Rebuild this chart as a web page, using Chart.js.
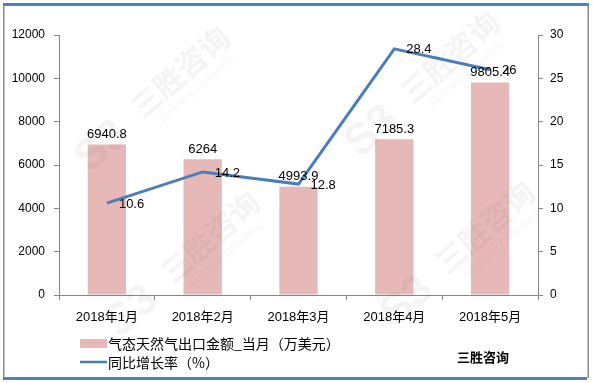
<!DOCTYPE html>
<html>
<head>
<meta charset="utf-8">
<script src="https://cdn.jsdelivr.net/npm/chart.js@4/dist/chart.umd.min.js"></script>
<style>
html,body{margin:0;padding:0;background:#fff;overflow:hidden}
#wrap{width:593px;height:383px;position:relative}
canvas{display:block}
</style>
</head>
<body>
<div id="wrap"><canvas id="c" width="593" height="383"></canvas></div>
<script>
// ---- data ----
const categories = ['2018年1月', '2018年2月', '2018年3月', '2018年4月', '2018年5月'];
const exportValue = [6940.8, 6264, 4993.9, 7185.3, 9805.4];
const growthRate = [10.6, 14.2, 12.8, 28.4, 26];
const leftAxisRange = [0, 12000, 2000];
const rightAxisRange = [0, 30, 5];
const barSeriesName = '气态天然气出口金额_当月（万美元）';
const lineSeriesName = '同比增长率（%）';
const sourceName = '三胜咨询';

const NUM_FONT = '"Liberation Sans", "Noto Sans CJK SC", sans-serif';
const CJK_FONT = '"Noto Sans CJK SC", "Liberation Sans", sans-serif';
const BAR_COLOR = '#E6B9B8';
const LINE_COLOR = '#4A7EBB';
const AXIS_COLOR = '#868686';

const framePlugin = {
  id: 'frame',
  beforeDraw(chart) {
    const ctx = chart.ctx;
    ctx.save();
    ctx.fillStyle = '#fff';
    ctx.fillRect(0, 0, chart.width, chart.height);
    ctx.fillStyle = '#8c8c8c';
    ctx.fillRect(3, 3, 1.5, 375);
    ctx.fillRect(587.5, 3, 1.5, 375);
    ctx.fillStyle = '#4F81BD';
    ctx.fillRect(3, 3, 586, 3);
    ctx.fillRect(3, 377, 584, 3);
    ctx.restore();
  }
};

const watermarkPlugin = {
  id: 'watermark',
  afterDraw(chart) {
    const ctx = chart.ctx;
    const spots = [[165, 85], [435, 70], [195, 250], [470, 240]];
    ctx.save();
    spots.forEach(([x, y]) => {
      ctx.save();
      ctx.translate(x, y);
      ctx.rotate(-0.72);
      ctx.globalAlpha = 0.06;
      ctx.fillStyle = '#444';
      ctx.font = 'bold 30px ' + CJK_FONT;
      ctx.textAlign = 'center';
      ctx.textBaseline = 'middle';
      ctx.fillText(sourceName, 20, 0);
      ctx.font = 'bold 44px ' + NUM_FONT;
      ctx.fillText('S3', -88, 5);
      ctx.font = '10px ' + NUM_FONT;
      ctx.fillText('Sansheng Consulting', 20, 24);
      ctx.restore();
    });
    ctx.restore();
  }
};

const labelPlugin = {
  id: 'valueLabels',
  afterDatasetsDraw(chart) {
    const ctx = chart.ctx;
    ctx.save();
    ctx.fillStyle = '#000';
    ctx.font = '13px ' + NUM_FONT;
    const barMeta = chart.getDatasetMeta(0);
    ctx.textAlign = 'center';
    ctx.textBaseline = 'middle';
    barMeta.data.forEach((el, i) => {
      ctx.fillText(String(exportValue[i]), el.x, el.y - 10);
    });
    const lineMeta = chart.getDatasetMeta(1);
    ctx.textAlign = 'left';
    lineMeta.data.forEach((el, i) => {
      ctx.fillText(String(growthRate[i]), el.x + 12, el.y + 1);
    });
    ctx.restore();
  }
};

const legendPlugin = {
  id: 'customLegend',
  afterDraw(chart) {
    const ctx = chart.ctx;
    const ds = chart.data.datasets;
    ctx.save();
    ctx.font = '14px ' + CJK_FONT;
    ctx.textAlign = 'left';
    ctx.textBaseline = 'middle';
    ctx.fillStyle = ds[0].backgroundColor;
    ctx.fillRect(80, 339, 27, 9);
    ctx.fillStyle = '#000';
    ctx.fillText(ds[0].label, 108, 343.5);
    ctx.strokeStyle = ds[1].borderColor;
    ctx.lineWidth = 2.5;
    ctx.beginPath();
    ctx.moveTo(80, 362);
    ctx.lineTo(107, 362);
    ctx.stroke();
    ctx.fillText(ds[1].label, 108, 362.5);
    ctx.font = 'bold 13px ' + CJK_FONT;
    ctx.fillText(sourceName, 457, 357);
    ctx.restore();
  }
};

const plainTick = (v) => String(v);

new Chart(document.getElementById('c'), {
  data: {
    labels: categories,
    datasets: [
      {
        type: 'bar',
        label: barSeriesName,
        data: exportValue,
        backgroundColor: BAR_COLOR,
        borderWidth: 0,
        barPercentage: 0.4,
        categoryPercentage: 1.0,
        yAxisID: 'y',
        order: 2
      },
      {
        type: 'line',
        label: lineSeriesName,
        data: growthRate,
        borderColor: LINE_COLOR,
        backgroundColor: LINE_COLOR,
        borderWidth: 3,
        pointRadius: 0,
        tension: 0,
        yAxisID: 'y1',
        order: 1
      }
    ]
  },
  options: {
    responsive: false,
    animation: false,
    devicePixelRatio: 1,
    layout: { padding: { left: 3, right: 0, top: 35, bottom: 58 } },
    plugins: {
      legend: { display: false },
      tooltip: { enabled: false }
    },
    scales: {
      x: {
        offset: true,
        grid: { offset: true, drawOnChartArea: false, drawTicks: true, tickLength: 5, color: AXIS_COLOR },
        border: { color: AXIS_COLOR, width: 1 },
        ticks: { font: { size: 13, family: NUM_FONT }, color: '#000', padding: 10, maxRotation: 0, autoSkip: false },
        afterFit(s) { s.height = 30; }
      },
      y: {
        position: 'left',
        min: leftAxisRange[0],
        max: leftAxisRange[1],
        grid: { drawOnChartArea: false, drawTicks: true, tickLength: 5, color: AXIS_COLOR },
        border: { color: AXIS_COLOR, width: 1 },
        ticks: { stepSize: leftAxisRange[2], font: { size: 12, family: NUM_FONT }, color: '#000', padding: 9, callback: plainTick },
        afterFit(s) { s.width = 56; }
      },
      y1: {
        position: 'right',
        min: rightAxisRange[0],
        max: rightAxisRange[1],
        grid: { drawOnChartArea: false, drawTicks: true, tickLength: 5, color: AXIS_COLOR },
        border: { color: AXIS_COLOR, width: 1 },
        ticks: { stepSize: rightAxisRange[2], font: { size: 12, family: NUM_FONT }, color: '#000', padding: 7, callback: plainTick },
        afterFit(s) { s.width = 55; }
      }
    }
  },
  plugins: [framePlugin, labelPlugin, legendPlugin, watermarkPlugin]
});
</script>
</body>
</html>
